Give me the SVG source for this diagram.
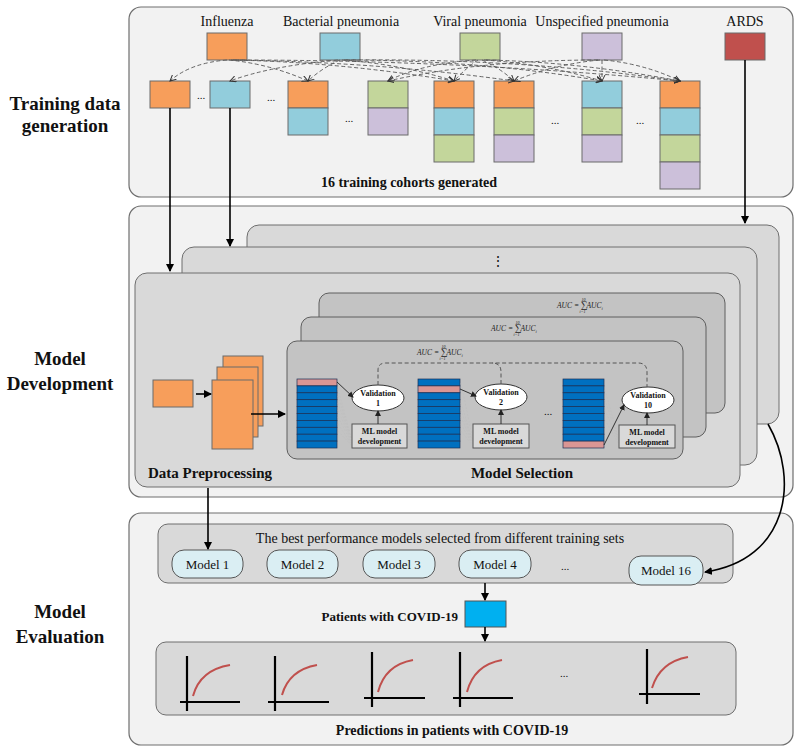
<svg xmlns="http://www.w3.org/2000/svg" width="800" height="749" viewBox="0 0 800 749">
<defs>
<marker id="ah" markerWidth="8" markerHeight="8" refX="7" refY="4" orient="auto" markerUnits="userSpaceOnUse"><path d="M0,0 L8,4 L0,8 z" fill="#000"/></marker>
<marker id="dh" markerWidth="7" markerHeight="7" refX="6" refY="3.5" orient="auto" markerUnits="userSpaceOnUse"><path d="M0,0.5 L6,3.5 L0,6.5" fill="none" stroke="#333" stroke-width="1"/></marker>
<marker id="sh" markerWidth="6" markerHeight="6" refX="5" refY="3" orient="auto" markerUnits="userSpaceOnUse"><path d="M0,0 L6,3 L0,6 z" fill="#222"/></marker>
</defs>
<style>
.panel{fill:#f2f2f2;stroke:#6e6e6e;stroke-width:1.2}
.card{fill:#d9d9d9;stroke:#6e6e6e;stroke-width:1}
.icard{fill:#c3c3c3;stroke:#5e5e5e;stroke-width:1}
.o{fill:#f79e5b;stroke:#6b6b6b;stroke-width:1}
.b{fill:#92cddc;stroke:#6b6b6b;stroke-width:1}
.g{fill:#c3d69b;stroke:#6b6b6b;stroke-width:1}
.p{fill:#ccc0da;stroke:#6b6b6b;stroke-width:1}
.t{font-family:"Liberation Serif","Times New Roman",serif;fill:#111}
.bold{font-weight:bold}
.dash{fill:none;stroke:#555;stroke-width:0.9;stroke-dasharray:4,2.5;marker-end:url(#dh)}
.ln{fill:none;stroke:#000;stroke-width:1.6;marker-end:url(#ah)}
.row{fill:#0070c0;stroke:#1a2f55;stroke-width:0.7}
.pink{fill:#da9694;stroke:#1a2f55;stroke-width:0.7}
.ell{fill:#fff;stroke:#333;stroke-width:1}
.ml{fill:#d9d9d9;stroke:#555;stroke-width:1}
.fan{stroke:#bdbdbd;stroke-width:0.6;stroke-dasharray:2,1.5;fill:none}
.model{fill:#daeef3;stroke:#555;stroke-width:1}
.axis{stroke:#000;stroke-width:2.2;fill:none}
.curve{stroke:#c0504d;stroke-width:2;fill:none}
.auc{font-family:"Liberation Serif","Times New Roman",serif;font-style:italic;font-size:7.5px;fill:#222}
</style>

<!-- left labels -->
<g id="labels">
<text class="t bold" x="65" y="110" font-size="19" text-anchor="middle">Training data</text>
<text class="t bold" x="65" y="132" font-size="19" text-anchor="middle">generation</text>
<text class="t bold" x="60" y="365" font-size="19" text-anchor="middle">Model</text>
<text class="t bold" x="60" y="390" font-size="19" text-anchor="middle">Development</text>
<text class="t bold" x="60" y="618" font-size="19" text-anchor="middle">Model</text>
<text class="t bold" x="60" y="643" font-size="19" text-anchor="middle">Evaluation</text>
</g>

<!-- Training data generation panel -->
<g id="training">
<rect class="panel" x="129" y="7" width="664" height="190" rx="12"/>
<text class="t" x="227" y="26" font-size="14" text-anchor="middle">Influenza</text>
<text class="t" x="341" y="26" font-size="14" text-anchor="middle">Bacterial pneumonia</text>
<text class="t" x="480" y="26" font-size="14" text-anchor="middle">Viral pneumonia</text>
<text class="t" x="602" y="26" font-size="14" text-anchor="middle">Unspecified pneumonia</text>
<text class="t" x="745" y="26" font-size="14" text-anchor="middle">ARDS</text>
<text class="t bold" x="409" y="187" font-size="14" text-anchor="middle">16 training cohorts generated</text>
</g>
<g id="src-influenza"><rect class="o" x="207" y="33" width="40" height="27"/></g>
<g id="src-bacterial"><rect class="b" x="320" y="33" width="40" height="27"/></g>
<g id="src-viral"><rect class="g" x="460" y="33" width="40" height="27"/></g>
<g id="src-unspecified"><rect class="p" x="582" y="33" width="40" height="27"/></g>
<g id="src-ards"><rect x="725" y="33" width="40" height="27" fill="#c0504d" stroke="#6b6b6b"/></g>

<g id="cohort1"><rect class="o" x="150" y="81" width="40" height="27"/></g>
<g id="cohort2"><rect class="b" x="210" y="81" width="40" height="27"/></g>
<g id="cohort3"><rect class="o" x="288" y="81" width="40" height="27"/><rect class="b" x="288" y="108" width="40" height="27"/></g>
<g id="cohort4"><rect class="g" x="368" y="81" width="40" height="27"/><rect class="p" x="368" y="108" width="40" height="27"/></g>
<g id="cohort5"><rect class="o" x="434" y="81" width="40" height="27"/><rect class="b" x="434" y="108" width="40" height="27"/><rect class="g" x="434" y="135" width="40" height="27"/></g>
<g id="cohort6"><rect class="o" x="494" y="81" width="40" height="27"/><rect class="g" x="494" y="108" width="40" height="27"/><rect class="p" x="494" y="135" width="40" height="27"/></g>
<g id="cohort7"><rect class="b" x="582" y="81" width="40" height="27"/><rect class="g" x="582" y="108" width="40" height="27"/><rect class="p" x="582" y="135" width="40" height="27"/></g>
<g id="cohort8"><rect class="o" x="660" y="81" width="40" height="27"/><rect class="b" x="660" y="108" width="40" height="27"/><rect class="g" x="660" y="135" width="40" height="27"/><rect class="p" x="660" y="162" width="40" height="27"/></g>
<g id="dots-top" class="t" font-size="11">
<text x="201" y="99" text-anchor="middle">...</text>
<text x="271" y="101" text-anchor="middle">...</text>
<text x="349" y="122" text-anchor="middle">...</text>
<text x="555" y="124" text-anchor="middle">...</text>
<text x="640" y="124" text-anchor="middle">...</text>
</g>

<!-- Model development panel -->
<g id="development">
<rect class="panel" x="129" y="206" width="664" height="291" rx="12"/>
<rect class="card" x="247" y="225" width="532" height="199" rx="12"/>
<rect class="card" x="182" y="247" width="575" height="218" rx="12"/>
<rect class="card" x="135" y="273" width="605" height="214" rx="12"/>
<text class="t" x="498" y="266" font-size="14" text-anchor="middle">⋮</text>
<text class="t bold" x="148" y="478" font-size="15">Data Preprocessing</text>
<text class="t bold" x="522" y="478" font-size="15" text-anchor="middle">Model Selection</text>
</g>
<g id="preprocess">
<rect class="o" x="153" y="380" width="40" height="27"/>
<rect class="o" x="223" y="356" width="40" height="70"/>
<rect class="o" x="217" y="367" width="41" height="70"/>
<rect class="o" x="212" y="380" width="41" height="69"/>
</g>
<g id="selection">
<rect class="icard" x="319" y="293" width="406" height="120" rx="10"/>
<rect class="icard" x="301" y="317" width="405" height="120" rx="10"/>
<rect class="icard" x="287" y="341" width="396" height="118" rx="10"/>
<text class="auc" x="557" y="308">AUC = <tspan font-style="normal" font-size="9.5">∑</tspan><tspan font-size="4" dx="-6" dy="-7.5">10</tspan><tspan font-size="4" dx="-6" dy="12">i=1</tspan><tspan dx="1" dy="-4.5">AUC</tspan><tspan font-size="4.5" dy="1.5">i</tspan></text>
<text class="auc" x="491" y="331">AUC = <tspan font-style="normal" font-size="9.5">∑</tspan><tspan font-size="4" dx="-6" dy="-7.5">10</tspan><tspan font-size="4" dx="-6" dy="12">i=1</tspan><tspan dx="1" dy="-4.5">AUC</tspan><tspan font-size="4.5" dy="1.5">i</tspan></text>
<text class="auc" x="417" y="355">AUC = <tspan font-style="normal" font-size="9.5">∑</tspan><tspan font-size="4" dx="-6" dy="-7.5">10</tspan><tspan font-size="4" dx="-6" dy="12">i=1</tspan><tspan dx="1" dy="-4.5">AUC</tspan><tspan font-size="4.5" dy="1.5">i</tspan></text>
</g>
<g id="fold1">
<rect class="pink" x="297" y="379" width="40" height="6.9"/>
<rect class="row" x="297" y="385.9" width="40" height="6.9"/><rect class="row" x="297" y="392.8" width="40" height="6.9"/><rect class="row" x="297" y="399.7" width="40" height="6.9"/><rect class="row" x="297" y="406.6" width="40" height="6.9"/><rect class="row" x="297" y="413.5" width="40" height="6.9"/><rect class="row" x="297" y="420.4" width="40" height="6.9"/><rect class="row" x="297" y="427.3" width="40" height="6.9"/><rect class="row" x="297" y="434.2" width="40" height="6.9"/><rect class="row" x="297" y="441.1" width="40" height="6.9"/>
<path class="fan" d="M338,389 L352,440 M338,396 L352,441 M338,403 L352,442 M338,410 L352,443 M338,417 L352,444 M338,424 L352,445 M338,431 L352,446"/>
<ellipse class="ell" cx="378" cy="398" rx="26" ry="13"/>
<text class="t bold" x="378" y="396" font-size="8" text-anchor="middle">Validation</text>
<text class="t bold" x="378" y="406" font-size="8" text-anchor="middle">1</text>
<rect class="ml" x="352" y="424" width="55" height="24"/>
<text class="t bold" x="379.5" y="434" font-size="8" text-anchor="middle">ML model</text>
<text class="t bold" x="379.5" y="444" font-size="8" text-anchor="middle">development</text>
</g>
<g id="fold2">
<rect class="row" x="418" y="379" width="42" height="6.9"/>
<rect class="pink" x="418" y="385.9" width="42" height="6.9"/>
<rect class="row" x="418" y="392.8" width="42" height="6.9"/><rect class="row" x="418" y="399.7" width="42" height="6.9"/><rect class="row" x="418" y="406.6" width="42" height="6.9"/><rect class="row" x="418" y="413.5" width="42" height="6.9"/><rect class="row" x="418" y="420.4" width="42" height="6.9"/><rect class="row" x="418" y="427.3" width="42" height="6.9"/><rect class="row" x="418" y="434.2" width="42" height="6.9"/><rect class="row" x="418" y="441.1" width="42" height="6.9"/>
<path class="fan" d="M461,383 L473,440 M461,403 L473,442 M461,410 L473,443 M461,417 L473,444 M461,424 L473,445 M461,431 L473,446"/>
<ellipse class="ell" cx="501" cy="397" rx="26" ry="13"/>
<text class="t bold" x="501" y="395" font-size="8" text-anchor="middle">Validation</text>
<text class="t bold" x="501" y="405" font-size="8" text-anchor="middle">2</text>
<rect class="ml" x="473" y="424" width="56" height="24"/>
<text class="t bold" x="501" y="434" font-size="8" text-anchor="middle">ML model</text>
<text class="t bold" x="501" y="444" font-size="8" text-anchor="middle">development</text>
<text class="t" x="548" y="415" font-size="11" text-anchor="middle">...</text>
</g>
<g id="fold10">
<rect class="row" x="563" y="379" width="41" height="6.9"/><rect class="row" x="563" y="385.9" width="41" height="6.9"/><rect class="row" x="563" y="392.8" width="41" height="6.9"/><rect class="row" x="563" y="399.7" width="41" height="6.9"/><rect class="row" x="563" y="406.6" width="41" height="6.9"/><rect class="row" x="563" y="413.5" width="41" height="6.9"/><rect class="row" x="563" y="420.4" width="41" height="6.9"/><rect class="row" x="563" y="427.3" width="41" height="6.9"/><rect class="row" x="563" y="434.2" width="41" height="6.9"/>
<rect class="pink" x="563" y="441.1" width="41" height="6.9"/>
<path class="fan" d="M605,390 L619,440 M605,400 L619,441 M605,410 L619,442 M605,420 L619,444"/>
<ellipse class="ell" cx="648" cy="400" rx="26" ry="13"/>
<text class="t bold" x="648" y="398" font-size="8" text-anchor="middle">Validation</text>
<text class="t bold" x="648" y="408" font-size="8" text-anchor="middle">10</text>
<rect class="ml" x="619" y="425" width="56" height="23"/>
<text class="t bold" x="647" y="435" font-size="8" text-anchor="middle">ML model</text>
<text class="t bold" x="647" y="445" font-size="8" text-anchor="middle">development</text>
</g>

<!-- Model evaluation panel -->
<g id="evaluation">
<rect class="panel" x="129" y="513" width="664" height="232" rx="12"/>
<rect x="158" y="524" width="575" height="59" rx="10" fill="#d9d9d9" stroke="#6e6e6e"/>
<text class="t" x="440" y="543" font-size="14" text-anchor="middle">The best performance models selected from different training sets</text>
<text class="t bold" x="458" y="621" font-size="13" text-anchor="end">Patients with COVID-19</text>
<text class="t bold" x="452" y="735" font-size="14" text-anchor="middle">Predictions in patients with COVID-19</text>
</g>
<g id="model1"><rect class="model" x="172" y="550" width="71" height="28" rx="12"/><text class="t" x="207.5" y="569" font-size="13" text-anchor="middle">Model 1</text></g>
<g id="model2"><rect class="model" x="267" y="550" width="71" height="28" rx="12"/><text class="t" x="302.5" y="569" font-size="13" text-anchor="middle">Model 2</text></g>
<g id="model3"><rect class="model" x="363" y="550" width="72" height="28" rx="12"/><text class="t" x="399" y="569" font-size="13" text-anchor="middle">Model 3</text></g>
<g id="model4"><rect class="model" x="459" y="550" width="72" height="28" rx="12"/><text class="t" x="495" y="569" font-size="13" text-anchor="middle">Model 4</text></g>
<text class="t" x="565" y="570" font-size="11" text-anchor="middle">...</text>
<g id="model16"><rect class="model" x="629" y="556" width="74" height="29" rx="12"/><text class="t" x="666" y="575" font-size="13" text-anchor="middle">Model 16</text></g>
<g id="covid"><rect x="465" y="601" width="41" height="26" fill="#00b0f0" stroke="#555"/></g>
<g id="predictions">
<rect x="156" y="642" width="580" height="73" rx="10" fill="#d9d9d9" stroke="#6e6e6e"/>
<path class="axis" d="M187,656 V711 M180,702 H240"/><path class="curve" d="M193,696 Q200,670 230,665"/>
<path class="axis" d="M275,656 V711 M268,702 H329"/><path class="curve" d="M282,695 Q289,670 317,665"/>
<path class="axis" d="M372,652 V707 M364,698 H425"/><path class="curve" d="M378,692 Q385,665 413,660"/>
<path class="axis" d="M460,652 V707 M453,698 H513"/><path class="curve" d="M467,692 Q474,665 502,660"/>
<text class="t" x="564" y="677" font-size="11" text-anchor="middle">...</text>
<path class="axis" d="M647,649 V704 M639,694 H700"/><path class="curve" d="M652,688 Q660,662 688,657"/>
</g>

<!-- connectors -->
<g id="connectors">
<path class="dash" d="M227,60 Q190,63 170,81"/>
<path class="dash" d="M229,60 Q270,64 308,81"/>
<path class="dash" d="M231,60 Q340,62 454,81"/>
<path class="dash" d="M233,60 Q380,62 514,81"/>
<path class="dash" d="M235,60 Q460,60 680,81"/>
<path class="dash" d="M338,60 Q270,66 230,81"/>
<path class="dash" d="M340,60 Q322,68 308,81"/>
<path class="dash" d="M342,60 Q400,64 454,81"/>
<path class="dash" d="M344,60 Q480,60 602,81"/>
<path class="dash" d="M346,60 Q520,58 680,81"/>
<path class="dash" d="M476,60 Q420,64 388,81"/>
<path class="dash" d="M478,60 Q466,68 454,81"/>
<path class="dash" d="M482,60 Q500,68 514,81"/>
<path class="dash" d="M484,60 Q545,64 602,81"/>
<path class="dash" d="M486,60 Q580,62 680,81"/>
<path class="dash" d="M598,60 Q480,60 388,81"/>
<path class="dash" d="M600,60 Q555,64 514,81"/>
<path class="dash" d="M602,60 L602,81"/>
<path class="dash" d="M604,60 Q645,64 680,81"/>
<path class="ln" d="M170,108 V271"/>
<path class="ln" d="M230,108 V246"/>
<path class="ln" d="M745,60 V223"/>
<path class="ln" d="M196,394 H211"/>
<path class="ln" d="M251,414 H285"/>
<path fill="none" stroke="#222" stroke-width="0.9" marker-end="url(#sh)" d="M337,382 L353,397"/>
<path fill="none" stroke="#222" stroke-width="0.9" marker-end="url(#sh)" d="M378,424 V411"/>
<path fill="none" stroke="#222" stroke-width="0.9" marker-end="url(#sh)" d="M460,389 L476,396"/>
<path fill="none" stroke="#222" stroke-width="0.9" marker-end="url(#sh)" d="M501,424 V410"/>
<path fill="none" stroke="#222" stroke-width="0.9" marker-end="url(#sh)" d="M604,445 L624,405"/>
<path fill="none" stroke="#222" stroke-width="0.9" marker-end="url(#sh)" d="M647,425 V413"/>
<path fill="none" stroke="#555" stroke-width="1" stroke-dasharray="4,2.5" d="M378,385 V370 Q378,363 386,363 H638 Q647,363 647,372 V387 M501,384 V372 Q501,363 492,363"/>
<path class="ln" d="M208,488 V549"/>
<path class="ln" d="M768,424 C800,480 788,560 705,572"/>
<path class="ln" d="M485,583 V600"/>
<path class="ln" d="M485,627 V641"/>
</g>
</svg>
